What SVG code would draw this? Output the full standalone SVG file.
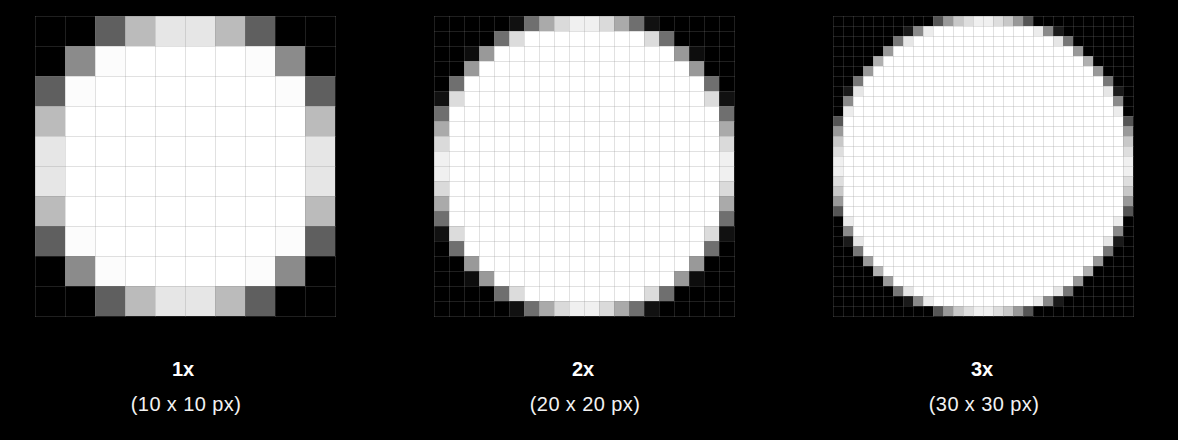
<svg xmlns="http://www.w3.org/2000/svg" width="1178" height="440" viewBox="0 0 1178 440">
<style>
.w{fill:#ffffff}
.t{font-family:"Liberation Sans",Arial,sans-serif;font-size:20px;text-anchor:middle;fill:#f2f2f2;letter-spacing:0.4px}
.b{font-weight:bold;fill:#ffffff;letter-spacing:0px}
.gl{stroke:#808080;stroke-opacity:0.24;stroke-width:1;fill:none}
</style>
<defs>
<pattern id="p30" patternUnits="userSpaceOnUse" x="35" y="16" width="30" height="30"><path class="gl" d="M0 0.5H30M0.5 0V30"/></pattern>
<pattern id="p15" patternUnits="userSpaceOnUse" x="434" y="16" width="15" height="15"><path class="gl" d="M0 0.5H15M0.5 0V15"/></pattern>
<pattern id="p10" patternUnits="userSpaceOnUse" x="833" y="16" width="10" height="10"><path class="gl" d="M0 0.5H10M0.5 0V10"/></pattern>
</defs>
<rect width="1178" height="440" fill="#000"/>

<g id="grid1">
<rect class="w" x="65" y="46" width="240" height="240"/>
<g>
<rect x="95" y="16" width="30" height="30" fill="#5f5f5f"/><rect x="125" y="16" width="30" height="30" fill="#bbbbbb"/><rect x="155" y="16" width="30" height="30" fill="#e6e6e6"/><rect x="185" y="16" width="30" height="30" fill="#e6e6e6"/><rect x="215" y="16" width="30" height="30" fill="#bbbbbb"/><rect x="245" y="16" width="30" height="30" fill="#5f5f5f"/>
<rect x="95" y="286" width="30" height="30" fill="#5f5f5f"/><rect x="125" y="286" width="30" height="30" fill="#bbbbbb"/><rect x="155" y="286" width="30" height="30" fill="#e6e6e6"/><rect x="185" y="286" width="30" height="30" fill="#e6e6e6"/><rect x="215" y="286" width="30" height="30" fill="#bbbbbb"/><rect x="245" y="286" width="30" height="30" fill="#5f5f5f"/>
<rect x="35" y="76" width="30" height="30" fill="#5f5f5f"/><rect x="35" y="106" width="30" height="30" fill="#bbbbbb"/><rect x="35" y="136" width="30" height="30" fill="#e6e6e6"/><rect x="35" y="166" width="30" height="30" fill="#e6e6e6"/><rect x="35" y="196" width="30" height="30" fill="#bbbbbb"/><rect x="35" y="226" width="30" height="30" fill="#5f5f5f"/>
<rect x="305" y="76" width="30" height="30" fill="#5f5f5f"/><rect x="305" y="106" width="30" height="30" fill="#bbbbbb"/><rect x="305" y="136" width="30" height="30" fill="#e6e6e6"/><rect x="305" y="166" width="30" height="30" fill="#e6e6e6"/><rect x="305" y="196" width="30" height="30" fill="#bbbbbb"/><rect x="305" y="226" width="30" height="30" fill="#5f5f5f"/>
<rect x="65" y="46" width="30" height="30" fill="#8b8b8b"/><rect x="275" y="46" width="30" height="30" fill="#8b8b8b"/><rect x="65" y="256" width="30" height="30" fill="#8b8b8b"/><rect x="275" y="256" width="30" height="30" fill="#8b8b8b"/>
<rect x="95" y="46" width="30" height="30" fill="#fcfcfc"/><rect x="245" y="46" width="30" height="30" fill="#fcfcfc"/><rect x="65" y="76" width="30" height="30" fill="#fcfcfc"/><rect x="275" y="76" width="30" height="30" fill="#fcfcfc"/>
<rect x="95" y="256" width="30" height="30" fill="#fcfcfc"/><rect x="245" y="256" width="30" height="30" fill="#fcfcfc"/><rect x="65" y="226" width="30" height="30" fill="#fcfcfc"/><rect x="275" y="226" width="30" height="30" fill="#fcfcfc"/>
</g>
<rect x="35" y="16" width="301" height="301" fill="url(#p30)"/>
</g>

<g id="grid2">
<rect class="w" x="464" y="76" width="240" height="180"/>
<rect class="w" x="449" y="106" width="270" height="120"/>
<rect class="w" x="479" y="61" width="210" height="210"/>
<rect class="w" x="494" y="46" width="180" height="240"/>
<rect class="w" x="524" y="31" width="120" height="270"/>
<g>
<rect x="509" y="16" width="15" height="15" fill="#111"/><rect x="524" y="16" width="15" height="15" fill="#6f6f6f"/><rect x="539" y="16" width="15" height="15" fill="#aaaaaa"/><rect x="554" y="16" width="15" height="15" fill="#dadada"/><rect x="569" y="16" width="15" height="15" fill="#f0f0f0"/><rect x="584" y="16" width="15" height="15" fill="#f0f0f0"/><rect x="599" y="16" width="15" height="15" fill="#dadada"/><rect x="614" y="16" width="15" height="15" fill="#aaaaaa"/><rect x="629" y="16" width="15" height="15" fill="#6f6f6f"/><rect x="644" y="16" width="15" height="15" fill="#111"/>
<rect x="509" y="301" width="15" height="15" fill="#111"/><rect x="524" y="301" width="15" height="15" fill="#6f6f6f"/><rect x="539" y="301" width="15" height="15" fill="#aaaaaa"/><rect x="554" y="301" width="15" height="15" fill="#dadada"/><rect x="569" y="301" width="15" height="15" fill="#f0f0f0"/><rect x="584" y="301" width="15" height="15" fill="#f0f0f0"/><rect x="599" y="301" width="15" height="15" fill="#dadada"/><rect x="614" y="301" width="15" height="15" fill="#aaaaaa"/><rect x="629" y="301" width="15" height="15" fill="#6f6f6f"/><rect x="644" y="301" width="15" height="15" fill="#111"/>
<rect x="434" y="91" width="15" height="15" fill="#111"/><rect x="434" y="106" width="15" height="15" fill="#6f6f6f"/><rect x="434" y="121" width="15" height="15" fill="#aaaaaa"/><rect x="434" y="136" width="15" height="15" fill="#dadada"/><rect x="434" y="151" width="15" height="15" fill="#f0f0f0"/><rect x="434" y="166" width="15" height="15" fill="#f0f0f0"/><rect x="434" y="181" width="15" height="15" fill="#dadada"/><rect x="434" y="196" width="15" height="15" fill="#aaaaaa"/><rect x="434" y="211" width="15" height="15" fill="#6f6f6f"/><rect x="434" y="226" width="15" height="15" fill="#111"/>
<rect x="719" y="91" width="15" height="15" fill="#111"/><rect x="719" y="106" width="15" height="15" fill="#6f6f6f"/><rect x="719" y="121" width="15" height="15" fill="#aaaaaa"/><rect x="719" y="136" width="15" height="15" fill="#dadada"/><rect x="719" y="151" width="15" height="15" fill="#f0f0f0"/><rect x="719" y="166" width="15" height="15" fill="#f0f0f0"/><rect x="719" y="181" width="15" height="15" fill="#dadada"/><rect x="719" y="196" width="15" height="15" fill="#aaaaaa"/><rect x="719" y="211" width="15" height="15" fill="#6f6f6f"/><rect x="719" y="226" width="15" height="15" fill="#111"/>
<rect x="494" y="31" width="15" height="15" fill="#6f6f6f"/><rect x="509" y="31" width="15" height="15" fill="#dcdcdc"/><rect x="644" y="31" width="15" height="15" fill="#dcdcdc"/><rect x="659" y="31" width="15" height="15" fill="#6f6f6f"/>
<rect x="494" y="286" width="15" height="15" fill="#6f6f6f"/><rect x="509" y="286" width="15" height="15" fill="#dcdcdc"/><rect x="644" y="286" width="15" height="15" fill="#dcdcdc"/><rect x="659" y="286" width="15" height="15" fill="#6f6f6f"/>
<rect x="449" y="76" width="15" height="15" fill="#6f6f6f"/><rect x="449" y="91" width="15" height="15" fill="#dcdcdc"/><rect x="449" y="226" width="15" height="15" fill="#dcdcdc"/><rect x="449" y="241" width="15" height="15" fill="#6f6f6f"/>
<rect x="704" y="76" width="15" height="15" fill="#6f6f6f"/><rect x="704" y="91" width="15" height="15" fill="#dcdcdc"/><rect x="704" y="226" width="15" height="15" fill="#dcdcdc"/><rect x="704" y="241" width="15" height="15" fill="#6f6f6f"/>
<rect x="479" y="46" width="15" height="15" fill="#999"/><rect x="674" y="46" width="15" height="15" fill="#999"/><rect x="464" y="46" width="15" height="15" fill="#0d0d0d"/><rect x="689" y="46" width="15" height="15" fill="#0d0d0d"/>
<rect x="479" y="271" width="15" height="15" fill="#999"/><rect x="674" y="271" width="15" height="15" fill="#999"/><rect x="464" y="271" width="15" height="15" fill="#0d0d0d"/><rect x="689" y="271" width="15" height="15" fill="#0d0d0d"/>
<rect x="464" y="61" width="15" height="15" fill="#999"/><rect x="689" y="61" width="15" height="15" fill="#999"/><rect x="464" y="256" width="15" height="15" fill="#999"/><rect x="689" y="256" width="15" height="15" fill="#999"/>
</g>
<rect x="434" y="16" width="301" height="301" fill="url(#p15)"/>
</g>

<g id="grid3">
<rect class="w" x="843" y="116" width="280" height="100"/>
<rect class="w" x="853" y="96" width="260" height="140"/>
<rect class="w" x="863" y="76" width="240" height="180"/>
<rect class="w" x="873" y="66" width="220" height="200"/>
<rect class="w" x="883" y="56" width="200" height="220"/>
<rect class="w" x="893" y="46" width="180" height="240"/>
<rect class="w" x="913" y="36" width="140" height="260"/>
<rect class="w" x="933" y="26" width="100" height="280"/>
<g>
<rect x="933" y="16" width="10" height="10" fill="#555"/><rect x="943" y="16" width="10" height="10" fill="#999"/><rect x="953" y="16" width="10" height="10" fill="#c8c8c8"/><rect x="963" y="16" width="10" height="10" fill="#dedede"/><rect x="973" y="16" width="10" height="10" fill="#f0f0f0"/><rect x="983" y="16" width="10" height="10" fill="#f0f0f0"/><rect x="993" y="16" width="10" height="10" fill="#dedede"/><rect x="1003" y="16" width="10" height="10" fill="#c8c8c8"/><rect x="1013" y="16" width="10" height="10" fill="#999"/><rect x="1023" y="16" width="10" height="10" fill="#555"/>
<rect x="933" y="306" width="10" height="10" fill="#555"/><rect x="943" y="306" width="10" height="10" fill="#999"/><rect x="953" y="306" width="10" height="10" fill="#c8c8c8"/><rect x="963" y="306" width="10" height="10" fill="#dedede"/><rect x="973" y="306" width="10" height="10" fill="#f0f0f0"/><rect x="983" y="306" width="10" height="10" fill="#f0f0f0"/><rect x="993" y="306" width="10" height="10" fill="#dedede"/><rect x="1003" y="306" width="10" height="10" fill="#c8c8c8"/><rect x="1013" y="306" width="10" height="10" fill="#999"/><rect x="1023" y="306" width="10" height="10" fill="#555"/>
<rect x="833" y="116" width="10" height="10" fill="#555"/><rect x="833" y="126" width="10" height="10" fill="#999"/><rect x="833" y="136" width="10" height="10" fill="#c8c8c8"/><rect x="833" y="146" width="10" height="10" fill="#dedede"/><rect x="833" y="156" width="10" height="10" fill="#f0f0f0"/><rect x="833" y="166" width="10" height="10" fill="#f0f0f0"/><rect x="833" y="176" width="10" height="10" fill="#dedede"/><rect x="833" y="186" width="10" height="10" fill="#c8c8c8"/><rect x="833" y="196" width="10" height="10" fill="#999"/><rect x="833" y="206" width="10" height="10" fill="#555"/>
<rect x="1123" y="116" width="10" height="10" fill="#555"/><rect x="1123" y="126" width="10" height="10" fill="#999"/><rect x="1123" y="136" width="10" height="10" fill="#c8c8c8"/><rect x="1123" y="146" width="10" height="10" fill="#dedede"/><rect x="1123" y="156" width="10" height="10" fill="#f0f0f0"/><rect x="1123" y="166" width="10" height="10" fill="#f0f0f0"/><rect x="1123" y="176" width="10" height="10" fill="#dedede"/><rect x="1123" y="186" width="10" height="10" fill="#c8c8c8"/><rect x="1123" y="196" width="10" height="10" fill="#999"/><rect x="1123" y="206" width="10" height="10" fill="#555"/>
<rect x="903" y="26" width="10" height="10" fill="#1a1a1a"/><rect x="913" y="26" width="10" height="10" fill="#8a8a8a"/><rect x="923" y="26" width="10" height="10" fill="#ececec"/><rect x="1033" y="26" width="10" height="10" fill="#ececec"/><rect x="1043" y="26" width="10" height="10" fill="#8a8a8a"/><rect x="1053" y="26" width="10" height="10" fill="#1a1a1a"/>
<rect x="903" y="296" width="10" height="10" fill="#1a1a1a"/><rect x="913" y="296" width="10" height="10" fill="#8a8a8a"/><rect x="923" y="296" width="10" height="10" fill="#ececec"/><rect x="1033" y="296" width="10" height="10" fill="#ececec"/><rect x="1043" y="296" width="10" height="10" fill="#8a8a8a"/><rect x="1053" y="296" width="10" height="10" fill="#1a1a1a"/>
<rect x="843" y="86" width="10" height="10" fill="#1a1a1a"/><rect x="843" y="96" width="10" height="10" fill="#8a8a8a"/><rect x="843" y="106" width="10" height="10" fill="#ececec"/><rect x="843" y="216" width="10" height="10" fill="#ececec"/><rect x="843" y="226" width="10" height="10" fill="#8a8a8a"/><rect x="843" y="236" width="10" height="10" fill="#1a1a1a"/>
<rect x="1113" y="86" width="10" height="10" fill="#1a1a1a"/><rect x="1113" y="96" width="10" height="10" fill="#8a8a8a"/><rect x="1113" y="106" width="10" height="10" fill="#ececec"/><rect x="1113" y="216" width="10" height="10" fill="#ececec"/><rect x="1113" y="226" width="10" height="10" fill="#8a8a8a"/><rect x="1113" y="236" width="10" height="10" fill="#1a1a1a"/>
<rect x="893" y="36" width="10" height="10" fill="#777"/><rect x="903" y="36" width="10" height="10" fill="#e6e6e6"/><rect x="1053" y="36" width="10" height="10" fill="#e6e6e6"/><rect x="1063" y="36" width="10" height="10" fill="#777"/>
<rect x="893" y="286" width="10" height="10" fill="#777"/><rect x="903" y="286" width="10" height="10" fill="#e6e6e6"/><rect x="1053" y="286" width="10" height="10" fill="#e6e6e6"/><rect x="1063" y="286" width="10" height="10" fill="#777"/>
<rect x="853" y="76" width="10" height="10" fill="#777"/><rect x="853" y="86" width="10" height="10" fill="#e6e6e6"/><rect x="853" y="236" width="10" height="10" fill="#e6e6e6"/><rect x="853" y="246" width="10" height="10" fill="#777"/>
<rect x="1103" y="76" width="10" height="10" fill="#777"/><rect x="1103" y="86" width="10" height="10" fill="#e6e6e6"/><rect x="1103" y="236" width="10" height="10" fill="#e6e6e6"/><rect x="1103" y="246" width="10" height="10" fill="#777"/>
<rect x="883" y="46" width="10" height="10" fill="#999"/><rect x="1073" y="46" width="10" height="10" fill="#999"/><rect x="883" y="276" width="10" height="10" fill="#999"/><rect x="1073" y="276" width="10" height="10" fill="#999"/>
<rect x="863" y="66" width="10" height="10" fill="#999"/><rect x="863" y="256" width="10" height="10" fill="#999"/><rect x="1093" y="66" width="10" height="10" fill="#999"/><rect x="1093" y="256" width="10" height="10" fill="#999"/>
<rect x="873" y="56" width="10" height="10" fill="#b0b0b0"/><rect x="1083" y="56" width="10" height="10" fill="#b0b0b0"/><rect x="873" y="266" width="10" height="10" fill="#b0b0b0"/><rect x="1083" y="266" width="10" height="10" fill="#b0b0b0"/>
</g>
<rect x="833" y="16" width="301" height="301" fill="url(#p10)"/>
</g>

<g id="label1">
<text class="t b" x="183" y="376">1x</text>
<text class="t" x="186" y="411">(10 x 10 px)</text>
</g>
<g id="label2">
<text class="t b" x="583" y="376">2x</text>
<text class="t" x="585" y="411">(20 x 20 px)</text>
</g>
<g id="label3">
<text class="t b" x="982" y="376">3x</text>
<text class="t" x="984" y="411">(30 x 30 px)</text>
</g>
<g id="connectors"/>
</svg>
